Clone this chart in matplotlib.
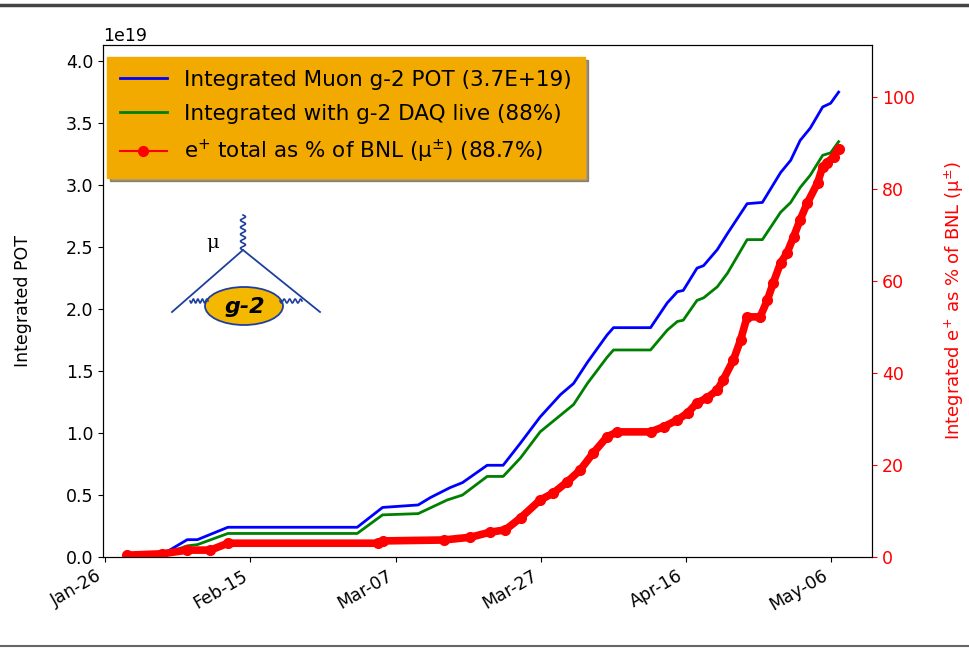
import datetime as dt
import numpy as np
import matplotlib.pyplot as plt
import matplotlib.dates as mdates
from matplotlib.lines import Line2D
from matplotlib.patches import Ellipse

# days since Jan-26-2018 and integrated POT (units of 1e19)
pot_days = [3.0, 7.85, 11.3, 12.7, 16.9, 34.7, 38.2, 43.1, 44.8, 47.5, 49.2, 52.6, 54.8,
            57.2, 59.9, 62.7, 64.5, 66.4, 69.1, 70.0, 75.1, 77.4, 78.8, 79.6, 81.5, 82.4,
            84.3, 85.7, 88.4, 90.5, 93.0, 94.4, 95.7, 97.1, 98.8, 99.9, 101.0]
pot_total = [0.0, 0.02, 0.14, 0.14, 0.24, 0.24, 0.40, 0.42, 0.48, 0.56, 0.60, 0.74, 0.74,
             0.92, 1.13, 1.31, 1.40, 1.57, 1.79, 1.85, 1.85, 2.05, 2.14, 2.15, 2.33, 2.35,
             2.48, 2.61, 2.85, 2.86, 3.10, 3.20, 3.36, 3.46, 3.63, 3.66, 3.75]

daq_days = [3.0, 7.85, 11.3, 12.7, 16.9, 34.7, 38.2, 43.1, 47.1, 49.2, 52.6, 54.8, 57.2,
            59.9, 64.5, 66.4, 69.1, 70.0, 75.1, 77.4, 78.8, 79.6, 81.5, 82.4, 84.3, 85.7,
            88.4, 90.5, 93.0, 94.4, 95.7, 97.1, 98.8, 99.9, 101.0]
daq_total = [0.0, 0.02, 0.09, 0.10, 0.19, 0.19, 0.34, 0.35, 0.46, 0.50, 0.65, 0.65, 0.80,
             1.01, 1.23, 1.40, 1.61, 1.67, 1.67, 1.83, 1.90, 1.91, 2.07, 2.09, 2.18, 2.29,
             2.56, 2.56, 2.78, 2.86, 2.98, 3.08, 3.24, 3.26, 3.35]

# e+ as % of BNL
ep_days = [3.0, 7.85, 11.3, 14.5, 16.9, 37.5, 38.2, 46.6, 50.3, 53.0, 55.1, 57.2, 59.9,
           61.7, 63.6, 65.4, 67.2, 69.1, 70.5, 75.1, 76.9, 78.8, 80.2, 81.5, 82.9, 84.3,
           85.1, 86.5, 87.5, 88.4, 90.2, 91.2, 92.0, 93.0, 93.9, 94.8, 95.7, 96.7, 98.1,
           98.8, 99.4, 100.3, 101.0]
ep_pct = [0.4, 0.7, 1.5, 1.5, 3.0, 3.0, 3.5, 3.7, 4.3, 5.4, 5.9, 8.5, 12.4,
          13.9, 16.3, 18.9, 22.6, 26.1, 27.2, 27.2, 28.3, 29.8, 31.3, 33.5, 34.6, 36.3,
          38.5, 42.8, 47.2, 52.2, 52.2, 55.9, 59.6, 63.9, 66.1, 69.6, 73.3, 77.0, 81.3,
          84.8, 85.7, 87.0, 88.7]

start = dt.datetime(2018, 1, 26)
to_dates = lambda days: [start + dt.timedelta(days=d) for d in days]

fig = plt.figure(figsize=(9.7, 6.48), dpi=100)
ax = fig.add_axes([0.1062, 0.1404, 0.7928, 0.7902])
ax2 = ax.twinx()

l1, = ax.plot(to_dates(pot_days), np.array(pot_total) * 1e19, color='blue', lw=2,
              label='Integrated Muon g-2 POT (3.7E+19)')
l2, = ax.plot(to_dates(daq_days), np.array(daq_total) * 1e19, color='green', lw=2,
              label='Integrated with g-2 DAQ live (88%)')
ax2.plot(to_dates(ep_days), ep_pct, color='red', lw=5.5, solid_capstyle='round')
l3, = ax2.plot(to_dates(ep_days), ep_pct, color='red', lw=1.5, marker='o', ms=7,
               label='e$^{+}$ total as % of BNL (μ$^{\\pm}$) (88.7%)')

ax.set_xlim(start - dt.timedelta(days=0.3), start + dt.timedelta(days=105.6))
ax.set_ylim(0, 4.13e19)
ax2.set_ylim(0, 111.3)
ax.set_yticks(np.arange(0, 4.01e19, 0.5e19))
ax2.set_yticks(range(0, 101, 20))

ax.set_xticks(to_dates(range(0, 101, 20)))
ax.xaxis.set_major_formatter(mdates.DateFormatter('%b-%d'))
for lab in ax.get_xticklabels():
    lab.set_rotation(30)
    lab.set_ha('right')

fs = 12.5
ax.tick_params(labelsize=fs)
ax2.tick_params(labelsize=fs, colors='red')
ax2.spines['right'].set_color('black')
ax.yaxis.get_offset_text().set_fontsize(fs)
ax.set_ylabel('Integrated POT', fontsize=fs, labelpad=24)
ax2.set_ylabel('Integrated e$^{+}$ as % of BNL (μ$^{\\pm}$)', fontsize=13, color='red',
               labelpad=20)

leg = ax.legend(handles=[l1, l2, l3], loc='upper left', fontsize=15.5, shadow=True,
                facecolor='#f2aa00', framealpha=1, edgecolor='#f2aa00', fancybox=False,
                bbox_to_anchor=(0.005, 0.977), borderaxespad=0, handlelength=2.2,
                labelspacing=0.65, borderpad=0.6)

# g-2 logo
lax = fig.add_axes([165 / 970, 1 - 330 / 648, 160 / 970, 120 / 648])
lax.set_xlim(165, 325)
lax.set_ylim(330, 210)
lax.axis('off')
logo = '#1f3f9f'
lax.plot([172, 243, 320], [312, 250, 312], color=logo, lw=1.3)
t = np.linspace(0, 1, 200)
lax.plot(243 + 2.5 * np.sin(t * 2 * np.pi * 5), 215 + t * 35, color=logo, lw=1.2)
for x0, x1 in [(190, 208), (280, 302)]:
    xx = x0 + t * (x1 - x0)
    lax.plot(xx, 301 + 2 * np.sin(t * 2 * np.pi * 4), color=logo, lw=1.2)
lax.add_patch(Ellipse((244, 306), 78, 38, facecolor='#f5b800', edgecolor=logo, lw=1.3))
lax.text(245, 307, 'g-2', fontsize=16, fontweight='bold', style='italic',
         ha='center', va='center', color='black')
lax.text(213, 243, 'μ', fontsize=14, family='DejaVu Serif', ha='center', va='center',
         color='black')

# screenshot border lines
fig.add_artist(Line2D([0, 1], [1 - 5 / 648, 1 - 5 / 648], color='#444444', lw=2.5))
fig.add_artist(Line2D([0, 1], [2 / 648, 2 / 648], color='#666666', lw=1.5))

fig.savefig('out.png', dpi=100)
